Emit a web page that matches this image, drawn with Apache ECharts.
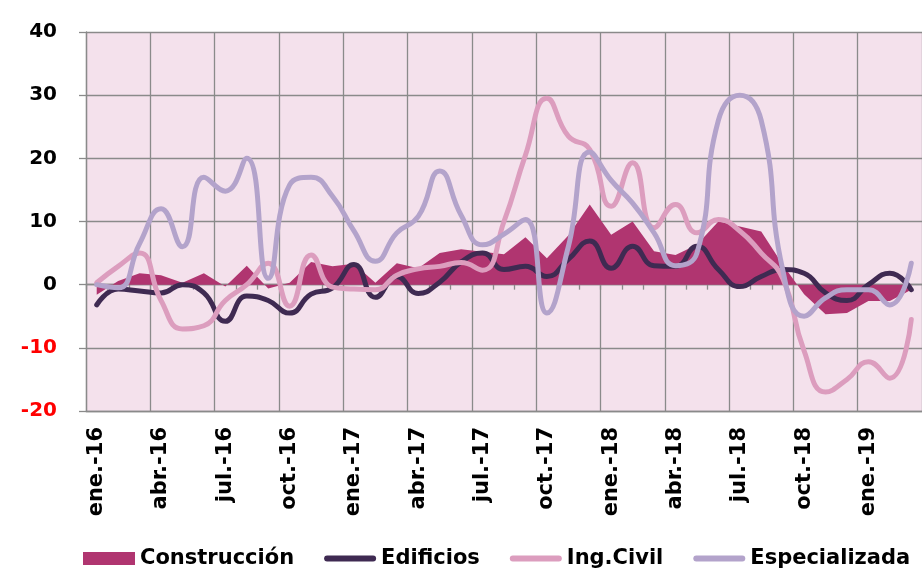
<!DOCTYPE html>
<html>
<head>
<meta charset="utf-8">
<script src="https://cdn.jsdelivr.net/npm/echarts@6/dist/echarts.min.js"></script>
<style>
  html, body { margin: 0; padding: 0; background: #ffffff; }
  #chart { width: 922px; height: 570px; }
</style>
</head>
<body>
<div id="chart"></div>
<script>
// Monthly categories, ene-16 .. mar-19
const months = [
  'ene.-16','feb.-16','mar.-16','abr.-16','may.-16','jun.-16','jul.-16','ago.-16','sept.-16','oct.-16','nov.-16','dic.-16',
  'ene.-17','feb.-17','mar.-17','abr.-17','may.-17','jun.-17','jul.-17','ago.-17','sept.-17','oct.-17','nov.-17','dic.-17',
  'ene.-18','feb.-18','mar.-18','abr.-18','may.-18','jun.-18','jul.-18','ago.-18','sept.-18','oct.-18','nov.-18','dic.-18',
  'ene.-19','feb.-19','mar.-19'
];

// Variation series (%)
const construccion = [-1.6, 0.6, 1.8, 1.5, 0.3, 1.8, -0.3, 3.0, -0.6, 0.3, 3.6, 2.9,
  3.3, 0.3, 3.4, 2.6, 5.0, 5.6, 5.2, 4.8, 7.5, 4.2, 7.8, 12.7,
  7.9, 10.0, 5.3, 4.7, 6.3, 10.0, 9.2, 8.4, 3.2, -1.5, -4.7, -4.5,
  -2.6, -2.6, -0.8];
const edificios = [-3.2, -0.7, -1.0, -1.3, 0.0, -1.3, -5.8, -1.8, -2.5, -4.5, -1.5, -0.5,
  3.2, -2.0, 1.3, -1.4, 0.4, 3.6, 5.0, 2.4, 2.9, 1.3, 4.0, 6.9,
  2.6, 6.1, 3.0, 2.9, 6.1, 2.4, -0.3, 1.3, 2.4, 1.8, -1.3, -2.5,
  0.0, 1.8, -0.8];
const ingCivil = [0.3, 2.9, 5.0, -2.5, -7.0, -6.5, -2.5, 0.0, 3.4, -3.4, 4.7, -0.4,
  -0.7, -0.8, 1.5, 2.5, 2.9, 3.5, 2.3, 10.0, 20.5, 29.5, 23.5, 21.4,
  12.4, 19.3, 9.0, 12.7, 8.2, 10.3, 8.5, 5.0, 1.0, -10.5, -17.0, -15.0,
  -12.2, -14.8, -5.5];
const especializada = [0.0, -0.5, 6.5, 12.0, 6.0, 17.0, 14.8, 20.0, 1.0, 15.8, 17.0, 14.0,
  8.5, 3.7, 8.2, 10.8, 18.0, 11.0, 6.3, 8.0, 10.3, -4.5, 6.0, 21.0,
  16.5, 12.9, 8.2, 3.0, 5.0, 26.0, 30.0, 26.0, 2.4, -5.0, -2.1, -0.8,
  -0.8, -3.2, 3.4];

// Value axis ticks
const yMin = -20, yMax = 40, yStep = 10;

const FONT = '"DejaVu Sans", Verdana, sans-serif';
const GRID_COLOR = '#8a8a8a';
// thick rounded bar used as the legend key of the line series
const LINE_KEY = 'path://M3,0 L49,0 A3,3 0 0 1 49,6 L3,6 A3,3 0 0 1 3,0 Z';

const chart = echarts.init(document.getElementById('chart'), null, { renderer: 'canvas' });

chart.setOption({
  animation: false,
  backgroundColor: '#ffffff',
  grid: {
    left: 86, top: 32, width: 840, height: 379,
    show: true, backgroundColor: '#f4e1ec', borderWidth: 0
  },
  legend: {
    left: 78, top: 543, padding: 5,
    itemWidth: 52, itemHeight: 13, itemGap: 30,
    textStyle: { fontFamily: FONT, fontSize: 21, fontWeight: 'bold', color: '#000' },
    data: [
      { name: 'Construcción', icon: 'rect' },
      { name: 'Edificios', icon: LINE_KEY },
      { name: 'Ing.Civil', icon: LINE_KEY },
      { name: 'Especializada', icon: LINE_KEY }
    ]
  },
  xAxis: [
    {
      type: 'category', data: months, boundaryGap: true, position: 'bottom',
      axisLine: { onZero: false, lineStyle: { color: GRID_COLOR, width: 1.3 } },
      axisTick: { show: false },
      axisLabel: {
        interval: 2, rotate: 90, margin: 16,
        fontFamily: FONT, fontSize: 21, fontWeight: 'bold', color: '#000'
      },
      splitLine: { show: true, interval: 2, lineStyle: { color: GRID_COLOR, width: 1.3 } }
    },
    {
      // month ticks hanging from the zero line
      type: 'category', data: months, boundaryGap: true, position: 'bottom',
      axisLine: { onZero: true, lineStyle: { color: GRID_COLOR, width: 1.3 } },
      axisTick: { show: true, interval: 0, length: 5, lineStyle: { color: GRID_COLOR, width: 1.3 } },
      axisLabel: { show: false },
      splitLine: { show: false }
    }
  ],
  yAxis: {
    type: 'value', min: yMin, max: yMax, interval: yStep,
    axisLine: { show: true, lineStyle: { color: GRID_COLOR, width: 1.3 } },
    axisTick: { show: true, length: 7, lineStyle: { color: GRID_COLOR, width: 1.3 } },
    axisLabel: {
      margin: 29,
      fontFamily: FONT, fontSize: 20, fontWeight: 'bold',
      color: function (v) { return Number(v) < 0 ? '#ff0000' : '#000000'; }
    },
    splitLine: { show: true, lineStyle: { color: GRID_COLOR, width: 1.3 } }
  },
  series: [
    {
      name: 'Construcción', type: 'line', data: construccion,
      xAxisIndex: 0, symbol: 'none', smooth: false,
      lineStyle: { width: 0, color: '#b03570' },
      itemStyle: { color: '#b03570' },
      areaStyle: { color: '#b03570', opacity: 1, origin: 0 },
      z: 2
    },
    {
      name: 'Edificios', type: 'line', data: edificios,
      xAxisIndex: 0, symbol: 'none', smooth: 0.5,
      lineStyle: { width: 5, color: '#3f2a52', cap: 'round', join: 'round' },
      itemStyle: { color: '#3f2a52' },
      z: 3
    },
    {
      name: 'Ing.Civil', type: 'line', data: ingCivil,
      xAxisIndex: 0, symbol: 'none', smooth: 0.5,
      lineStyle: { width: 5, color: '#dc9dbe', cap: 'round', join: 'round' },
      itemStyle: { color: '#dc9dbe' },
      z: 4
    },
    {
      name: 'Especializada', type: 'line', data: especializada,
      xAxisIndex: 0, symbol: 'none', smooth: 0.5,
      lineStyle: { width: 5, color: '#b3a3cb', cap: 'round', join: 'round' },
      itemStyle: { color: '#b3a3cb' },
      z: 5
    }
  ]
});
</script>
</body>
</html>
